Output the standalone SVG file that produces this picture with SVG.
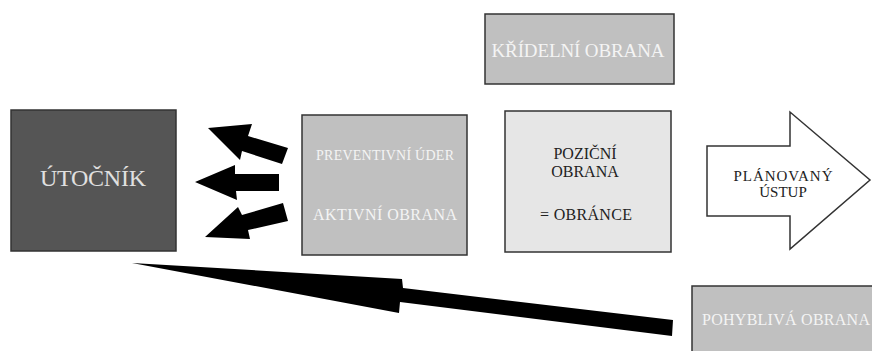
<svg xmlns="http://www.w3.org/2000/svg" width="872" height="351" viewBox="0 0 872 351">
<style>
text{text-anchor:middle}
.box{stroke:#333;stroke-width:1.5}
.dark{fill:#555}
.mid{fill:#c0c0c0}
.light{fill:#e6e6e6}
.wt{fill:#f4f4f4}
.bt{fill:#222}
.arr{fill:#000}
</style>
<rect width="872" height="351" fill="#fff"/>
<g font-family="Liberation Serif, Tinos, Times New Roman, DejaVu Serif, serif">
<g id="utocnik">
<rect class="box dark" x="11" y="110" width="165" height="141"/>
<text x="93" y="186" font-size="24" fill="#e0e0e0" textLength="106">ÚTOČNÍK</text>
</g>
<g id="aktivni-obrana">
<rect class="box mid" x="302" y="115" width="165" height="140"/>
<text class="wt" x="385" y="160" font-size="14" textLength="138">PREVENTIVNÍ ÚDER</text>
<text class="wt" x="385" y="220" font-size="16" textLength="144">AKTIVNÍ OBRANA</text>
</g>
<g id="kridelni-obrana">
<rect class="box mid" x="485" y="14" width="189" height="70"/>
<text class="wt" x="578" y="57" font-size="19" textLength="173">KŘÍDELNÍ OBRANA</text>
</g>
<g id="pozicni-obrana">
<rect class="box light" x="505" y="111" width="166" height="141"/>
<text class="bt" x="585" y="159" font-size="16">POZIČNÍ</text>
<text class="bt" x="585" y="177" font-size="16">OBRANA</text>
<text class="bt" x="586" y="220" font-size="16" textLength="92">= OBRÁNCE</text>
</g>
<g id="planovany-ustup">
<polygon points="707,146 790,146 790,112 870,180 790,249 790,216 707,216" fill="#fff" stroke="#333" stroke-width="1.5"/>
<text class="bt" x="783" y="181" font-size="15" textLength="99">PLÁNOVANÝ</text>
<text class="bt" x="783" y="197" font-size="15">ÚSTUP</text>
</g>
<g id="pohybliva-obrana">
<rect class="box mid" x="692" y="286" width="182" height="70"/>
<text class="wt" x="786" y="325" font-size="16" textLength="168">POHYBLIVÁ OBRANA</text>
</g>
</g>
<g id="connectors">
<polygon class="arr" points="208,128 252,124 248,136 288,148 282,164 242,151 240,160"/>
<polygon class="arr" points="195,182 235,165 235,174 279,174 279,191 236,191 237,200"/>
<polygon class="arr" points="205,237 238,207 242,215 283,203 288,221 248,230 250,239"/>
<polygon class="arr" points="132,263 402,279 403,288 673,320 672,336 400,302 399,313"/>
</g>
</svg>
